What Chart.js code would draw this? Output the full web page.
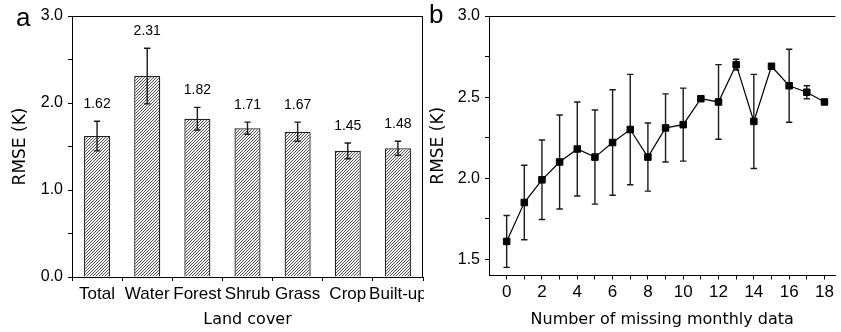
<!DOCTYPE html>
<html>
<head>
<meta charset="utf-8">
<script src="https://cdn.jsdelivr.net/npm/chart.js@4/dist/chart.umd.min.js"></script>
<style>
  html, body { margin: 0; padding: 0; background: #fff; overflow: hidden; }
  #wrap { position: relative; width: 841px; height: 332px; }
  canvas { position: absolute; top: 0; }
  #chartA { left: 0; }
  #chartB { left: 424px; }
  .panel { position: absolute; font-family: "Liberation Sans", Arial, sans-serif; font-size: 26px; line-height: 26px; color: #000; }
</style>
</head>
<body>
<div id="wrap">
  <canvas id="chartA" width="424" height="332"></canvas>
  <canvas id="chartB" width="417" height="332"></canvas>
  <div class="panel" style="left:16px; top:4px;">a</div>
  <div class="panel" style="left:429px; top:1px;">b</div>
</div>
<script>
// panel a
const landCover = ["Total", "Water", "Forest", "Shrub", "Grass", "Crop", "Built-up"];
const rmseLand = [1.62, 2.31, 1.82, 1.71, 1.67, 1.45, 1.48];
const errLand = [0.17, 0.32, 0.13, 0.07, 0.11, 0.09, 0.08];
const yTicksA = [0, 0.5, 1, 1.5, 2, 2.5, 3];

// panel b
const missing = [0, 1, 2, 3, 4, 5, 6, 7, 8, 9, 10, 11, 12, 13, 14, 15, 16, 17, 18];
const rmseMissing = [1.61, 1.85, 1.99, 2.10, 2.18, 2.13, 2.22, 2.30, 2.13, 2.31, 2.33, 2.49, 2.47, 2.70, 2.35, 2.69, 2.57, 2.53, 2.47];
const errMissing = [0.16, 0.23, 0.245, 0.29, 0.29, 0.29, 0.325, 0.34, 0.21, 0.21, 0.225, 0, 0.23, 0.033, 0.29, 0, 0.225, 0.04, 0];
const yTicksB = [1.5, 1.75, 2, 2.25, 2.5, 2.75, 3];
const xTicksB = missing;

const ARIAL = '"Liberation Sans", Arial, sans-serif';
const DEJAVU = '"DejaVu Sans", sans-serif';

// hatched fill for the bars
function makeHatch() {
  const c = document.createElement("canvas");
  c.width = 3; c.height = 3;
  const g = c.getContext("2d");
  g.fillStyle = "#f4f4f4";
  g.fillRect(0, 0, 3, 3);
  g.strokeStyle = "#555";
  g.lineWidth = 1;
  g.beginPath();
  g.moveTo(0, 3); g.lineTo(3, 0);
  g.moveTo(-1, 1); g.lineTo(1, -1);
  g.moveTo(2, 4); g.lineTo(4, 2);
  g.stroke();
  return g.createPattern(c, "repeat");
}

function frame(right) {
  return {
    id: "frame",
    afterDraw(chart) {
      const { ctx, chartArea: a } = chart;
      ctx.save();
      ctx.strokeStyle = "#000";
      ctx.lineWidth = 1;
      ctx.beginPath();
      ctx.moveTo(a.left, a.top + 0.5);
      ctx.lineTo(a.right, a.top + 0.5);
      if (right) {
        ctx.moveTo(a.right - 0.5, a.top);
        ctx.lineTo(a.right - 0.5, a.bottom);
      }
      ctx.stroke();
      ctx.restore();
    }
  };
}

function errorBars(xs, vals, errs, hook, labels) {
  const draw = (chart) => {
    const { ctx, scales } = chart;
    ctx.save();
    ctx.strokeStyle = "#1a1a1a";
    ctx.lineWidth = 1.4;
    vals.forEach((v, i) => {
      const x = scales.x.getPixelForValue(xs[i]);
      const yt = scales.y.getPixelForValue(v + errs[i]);
      const yb = scales.y.getPixelForValue(v - errs[i]);
      if (errs[i] > 0) {
        ctx.beginPath();
        ctx.moveTo(x, yt); ctx.lineTo(x, yb);
        ctx.moveTo(x - 3.2, yt); ctx.lineTo(x + 3.2, yt);
        ctx.moveTo(x - 3.2, yb); ctx.lineTo(x + 3.2, yb);
        ctx.stroke();
      }
      if (labels) {
        ctx.fillStyle = "#000";
        ctx.font = "14px " + ARIAL;
        ctx.textAlign = "center";
        ctx.textBaseline = "middle";
        ctx.fillText(v.toFixed(2), x, yt - 17);
      }
    });
    ctx.restore();
  };
  return { id: "errorBars", [hook]: draw };
}

new Chart(document.getElementById("chartA"), {
  type: "bar",
  data: {
    labels: landCover,
    datasets: [{
      data: rmseLand,
      backgroundColor: makeHatch(),
      borderColor: "#222",
      borderWidth: 1.3,
      barPercentage: 0.52,
      categoryPercentage: 1
    }]
  },
  options: {
    responsive: false,
    animation: false,
    devicePixelRatio: 1,
    layout: { padding: { left: 0, right: 1, top: 16, bottom: 0 } },
    plugins: { legend: { display: false }, tooltip: { enabled: false } },
    scales: {
      x: {
        grid: { drawOnChartArea: false, tickLength: 4, color: "#000", offset: true },
        border: { color: "#000", width: 1 },
        ticks: { color: "#000", font: { family: ARIAL, size: 17 }, padding: 3, maxRotation: 0, autoSkip: false },
        title: { display: true, text: "Land cover", color: "#000", font: { family: DEJAVU, size: 16 }, padding: { top: 0, bottom: 3 } },
        afterFit: (s) => { s.height = 55; s.paddingLeft = 0; s.paddingRight = 0; }
      },
      y: {
        min: 0,
        max: 3,
        afterBuildTicks: (s) => { s.ticks = yTicksA.map((v) => ({ value: v })); },
        grid: { drawOnChartArea: false, tickLength: 4, color: "#000" },
        border: { color: "#000", width: 1 },
        ticks: {
          color: "#000",
          font: { family: ARIAL, size: 16 },
          padding: 5,
          callback: (v) => Number.isInteger(v) ? v.toFixed(1) : ""
        },
        title: { display: true, text: "RMSE (K)", color: "#000", font: { family: DEJAVU, size: 17 }, padding: { top: 10, bottom: 0 } },
        afterFit: (s) => { s.width = 72; s.paddingTop = 0; s.paddingBottom = 0; }
      }
    }
  },
  plugins: [frame(true), errorBars(landCover.map((c, i) => i), rmseLand, errLand, "afterDatasetsDraw", true)]
});

new Chart(document.getElementById("chartB"), {
  type: "line",
  data: {
    datasets: [{
      data: missing.map((x, i) => ({ x: x, y: rmseMissing[i] })),
      borderColor: "#000",
      borderWidth: 1.2,
      pointStyle: "rect",
      pointRadius: 4.6,
      pointBackgroundColor: "#000",
      pointBorderColor: "#000",
      pointBorderWidth: 1,
      tension: 0
    }]
  },
  options: {
    responsive: false,
    animation: false,
    devicePixelRatio: 1,
    layout: { padding: { left: 0, right: 0, top: 16, bottom: 0 } },
    plugins: { legend: { display: false }, tooltip: { enabled: false } },
    scales: {
      x: {
        type: "linear",
        min: -1,
        max: 18.62,
        afterBuildTicks: (s) => { s.ticks = xTicksB.map((v) => ({ value: v })); },
        grid: { drawOnChartArea: false, tickLength: 4, color: "#000" },
        border: { color: "#000", width: 1 },
        ticks: {
          color: "#000",
          font: { family: ARIAL, size: 17 },
          padding: 3,
          maxRotation: 0,
          autoSkip: false,
          callback: (v) => v % 2 === 0 ? String(v) : ""
        },
        title: { display: true, text: "Number of missing monthly data", color: "#000", font: { family: DEJAVU, size: 16 }, padding: { top: 0, bottom: 3 } },
        afterFit: (s) => { s.height = 56.5; s.paddingLeft = 0; s.paddingRight = 0; }
      },
      y: {
        min: 1.4,
        max: 3,
        afterBuildTicks: (s) => { s.ticks = yTicksB.map((v) => ({ value: v })); },
        grid: { drawOnChartArea: false, tickLength: 4, color: "#000" },
        border: { color: "#000", width: 1 },
        ticks: {
          color: "#000",
          font: { family: ARIAL, size: 16 },
          padding: 5,
          callback: (v) => Math.abs(v * 2 - Math.round(v * 2)) < 1e-9 ? v.toFixed(1) : ""
        },
        title: { display: true, text: "RMSE (K)", color: "#000", font: { family: DEJAVU, size: 17 }, padding: { top: 4, bottom: 0 } },
        afterFit: (s) => { s.width = 65; s.paddingTop = 0; s.paddingBottom = 0; }
      }
    }
  },
  plugins: [frame(false), errorBars(missing, rmseMissing, errMissing, "beforeDatasetsDraw", false)]
});
</script>
</body>
</html>
